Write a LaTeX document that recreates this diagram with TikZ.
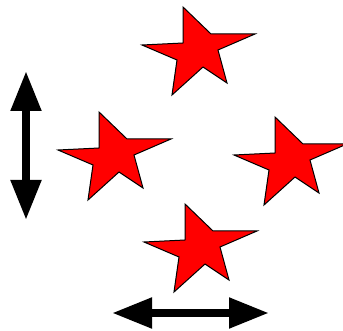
\documentclass[tikz,border=0pt]{standalone}
\usetikzlibrary{arrows.meta}

\begin{document}
\begin{tikzpicture}[
    x=1pt, y=-1pt,
    starline/.style={draw=black,fill=red,line width=1pt,line join=miter},
    twoway/.style={{Triangle[length=40pt,width=29pt]}-{Triangle[length=40pt,width=29pt]},line width=8pt},
    redstar/.pic={
        \path[starline] (-15,-48) -- (13,-21) -- (57,-21) -- (20,-5) -- (29,28)
            -- (5,12) -- (-26,40) -- (-21,5) -- (-56,-10) -- (-15,-12) -- cycle;
    }
]
\useasboundingbox (0,0) rectangle (343,331);

% Sterne
\pic at (198,55) {redstar};
\pic at (114,160) {redstar};
\pic at (290,165) {redstar};
\pic at (200,252) {redstar};

% Pfeile
\coordinate (vtop) at (26,71);
\coordinate (vbot) at (26,220);
\coordinate (hleft) at (112,313);
\coordinate (hright) at (269,313);
\draw[twoway] (vtop) -- (vbot);
\draw[twoway] (hleft) -- (hright);

\end{tikzpicture}
\end{document}
